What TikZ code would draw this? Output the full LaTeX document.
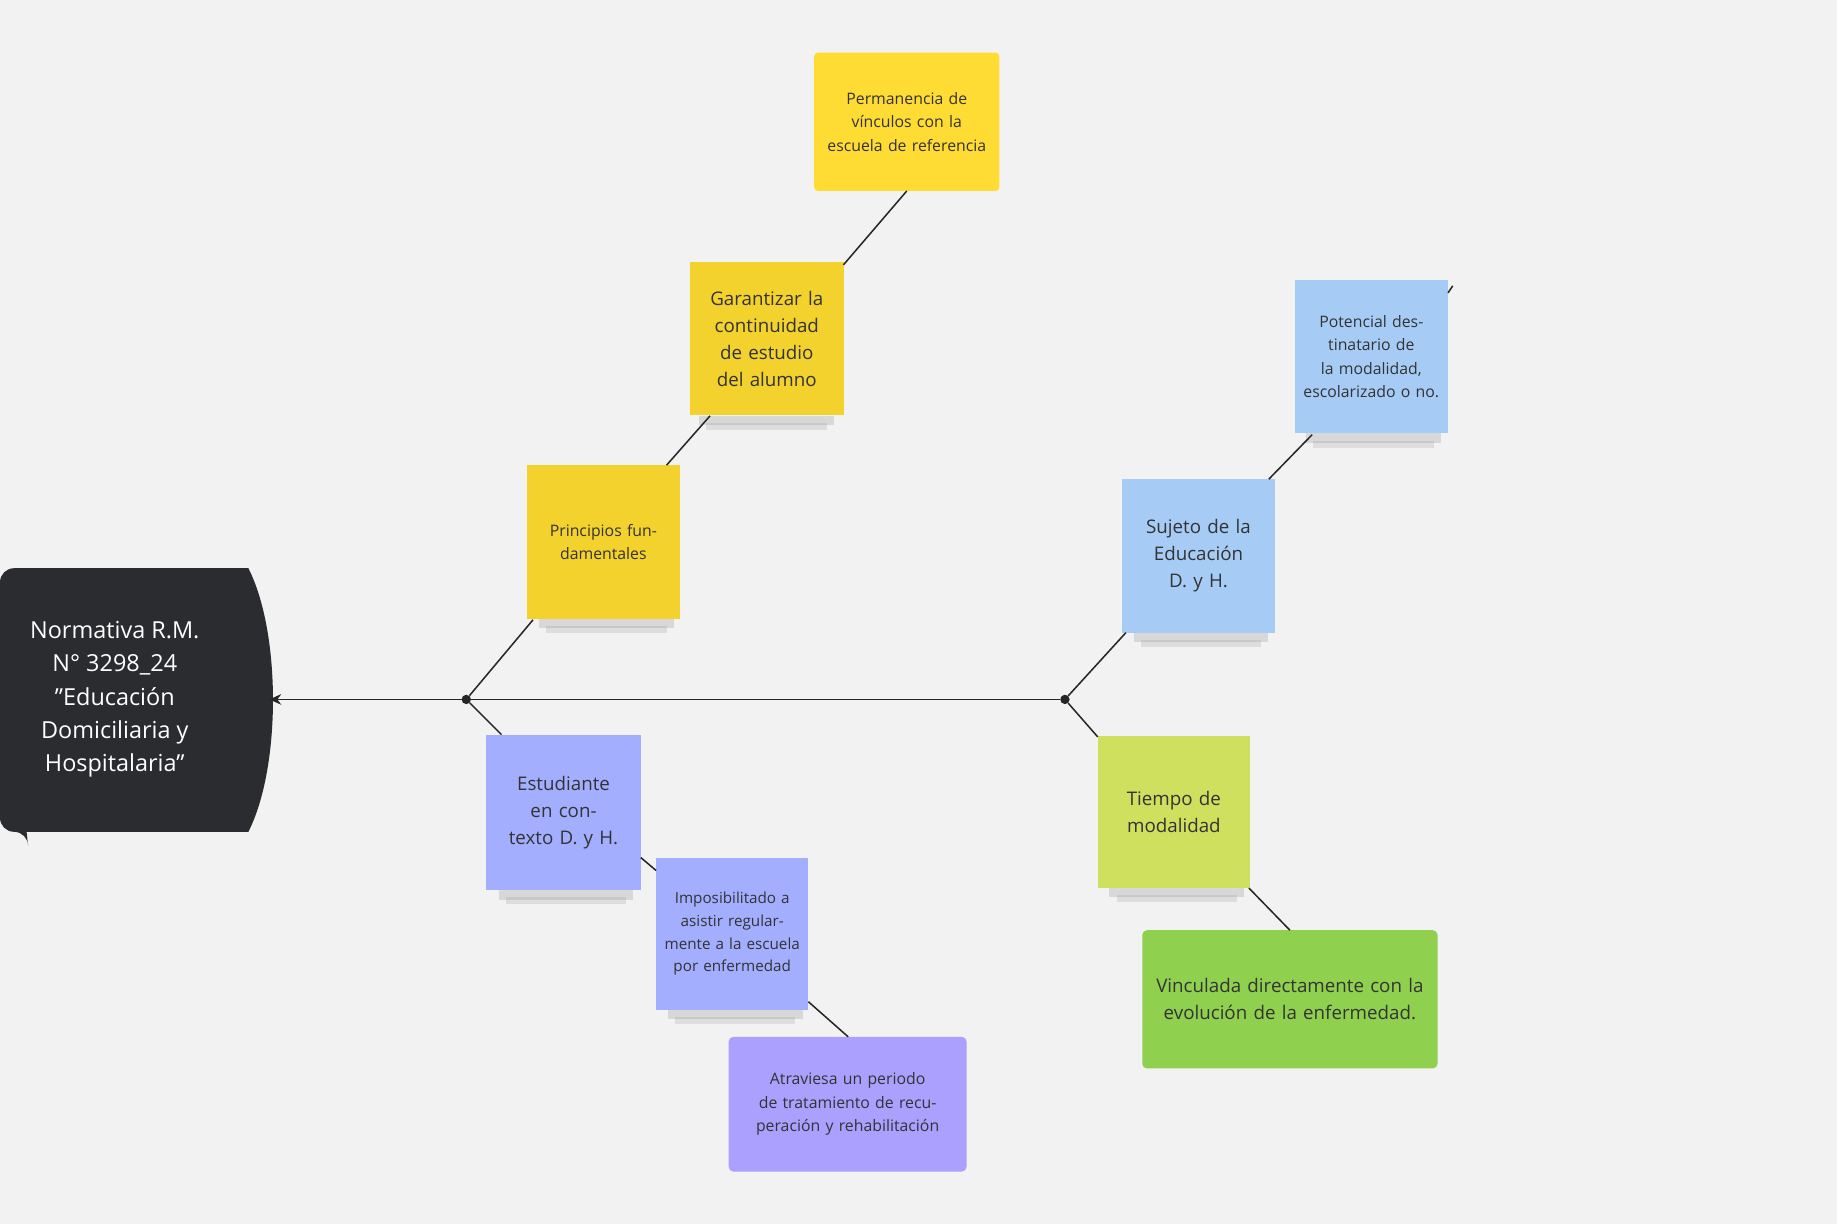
\documentclass[tikz,border=0pt]{standalone}
\usepackage{fontspec}
\setmainfont{Open Sans}
\usetikzlibrary{arrows.meta}
\definecolor{bg}{HTML}{F2F2F2}
\definecolor{ylw}{HTML}{F3D22E}
\definecolor{ylw2}{HTML}{FFDC34}
\definecolor{blu}{HTML}{A6CCF5}
\definecolor{per}{HTML}{A3AEFF}
\definecolor{lav}{HTML}{ACA0FF}
\definecolor{lim}{HTML}{CEE05E}
\definecolor{grn}{HTML}{8FD14F}
\definecolor{dark}{HTML}{2B2C30}
\definecolor{txt}{HTML}{333333}
\begin{document}
\begin{tikzpicture}[x=1pt,y=-1pt,
 note/.style={minimum width=#1, minimum height=131, inner sep=4pt, align=center, text=txt},
 big/.style={font=\fontsize{16}{23}\selectfont},
 small/.style={font=\fontsize{14.5}{21}\selectfont},
 tiny/.style={font=\fontsize{13.5}{20}\selectfont},
 ln/.style={draw=black!85, line width=1.3pt},
 dot/.style={circle, fill=black!85, inner sep=0pt, minimum size=8pt}]
\useasboundingbox (0,0) rectangle (1568,1045);
\fill[bg] (0,0) rectangle (1568,1045);
% shadows
\foreach \a/\b/\y in {460/575/528, 597/712/355, 426/540/760, 570/685/862, 968/1082/540, 1115/1230/370, 947/1062/758}{
  \fill[black!45, opacity=0.25] (\a,\y) rectangle (\b,\y+8);
  \fill[black!45, opacity=0.2] (\a+6,\y+6) rectangle (\b-6,\y+12);
}
% head
\fill[dark] (12,485) -- (212,485) .. controls (240,540) and (240,655) .. (212,710) -- (12,710) arc[start angle=90,end angle=180,radius=-12] -- (0,497) arc[start angle=180,end angle=270,radius=-12] -- cycle;
\fill[dark] (0,485) [rounded corners=12pt] rectangle (120,710);
\node[text=white, align=center, font=\fontsize{20}{28.5}\selectfont] (head) at (98,597) {Normativa R.M.\\N° 3298\_24\\"Educación\\Domiciliaria y\\Hospitalaria"};
\coordinate (tip) at (230,597);
% notes
\node[note=131, fill=ylw, tiny, text width=118] (p1) at (515,462.5) {Principios fundamentales};
\node[note=131, fill=ylw, big, text width=118] (p2) at (654.5,289) {Garantizar la continuidad de estudio del alumno};
\node[note=158, minimum height=118, fill=ylw2, rounded corners=3pt, tiny, text width=140] (p3) at (774,104) {Permanencia de vínculos con la escuela de referencia};
\node[note=132, minimum height=133, fill=per, big, text width=120] (e1) at (481,693.5) {Estudiante en contexto D. y H.};
\node[note=130, minimum height=130, fill=per, font=\fontsize{13}{19.5}\selectfont, text width=116] (e2) at (625,797) {Imposibilitado a asistir regularmente a la escuela por enfermedad};
\node[note=203, minimum height=115, fill=lav, rounded corners=4pt, tiny, text width=185] (e3) at (723.5,942.5) {Atraviesa un periodo de tratamiento de recuperación y rehabilitación};
\node[note=130, fill=blu, big, text width=118] (s1) at (1023,474.5) {Sujeto de la Educación D. y H.};
\node[note=131, fill=blu, tiny, text width=118] (s2) at (1170.5,304.5) {Potencial destinatario de la modalidad, escolarizado o no.};
\node[note=130, minimum height=130, fill=lim, big, text width=118] (t1) at (1002,693) {Tiempo de modalidad};
\node[note=252, minimum height=118, fill=grn, rounded corners=4pt, big, text width=235] (t2) at (1101,853) {Vinculada directamente con la evolución de la enfermedad.};
% spine
\node[dot] (j1) at (398,597) {};
\node[dot] (j2) at (909,597) {};
\draw[ln, -{Stealth[length=10pt,width=9pt]}] (j2) -- (tip);
% branches
\draw[ln] (j1) -- (455,529);
\draw[ln] (569,397) -- (606,355);
\draw[ln] (720,226) -- (774,163);
\draw[ln] (j1) -- (428,627);
\draw[ln] (547,732) -- (560,743);
\draw[ln] (690,855) -- (724,885);
\draw[ln] (j2) -- (961,540);
\draw[ln] (1083,409) -- (1120,371);
\draw[ln] (1236,250) -- (1240,244);
\draw[ln] (j2) -- (937,629);
\draw[ln] (1066,758) -- (1101,794);
\end{tikzpicture}
\end{document}
